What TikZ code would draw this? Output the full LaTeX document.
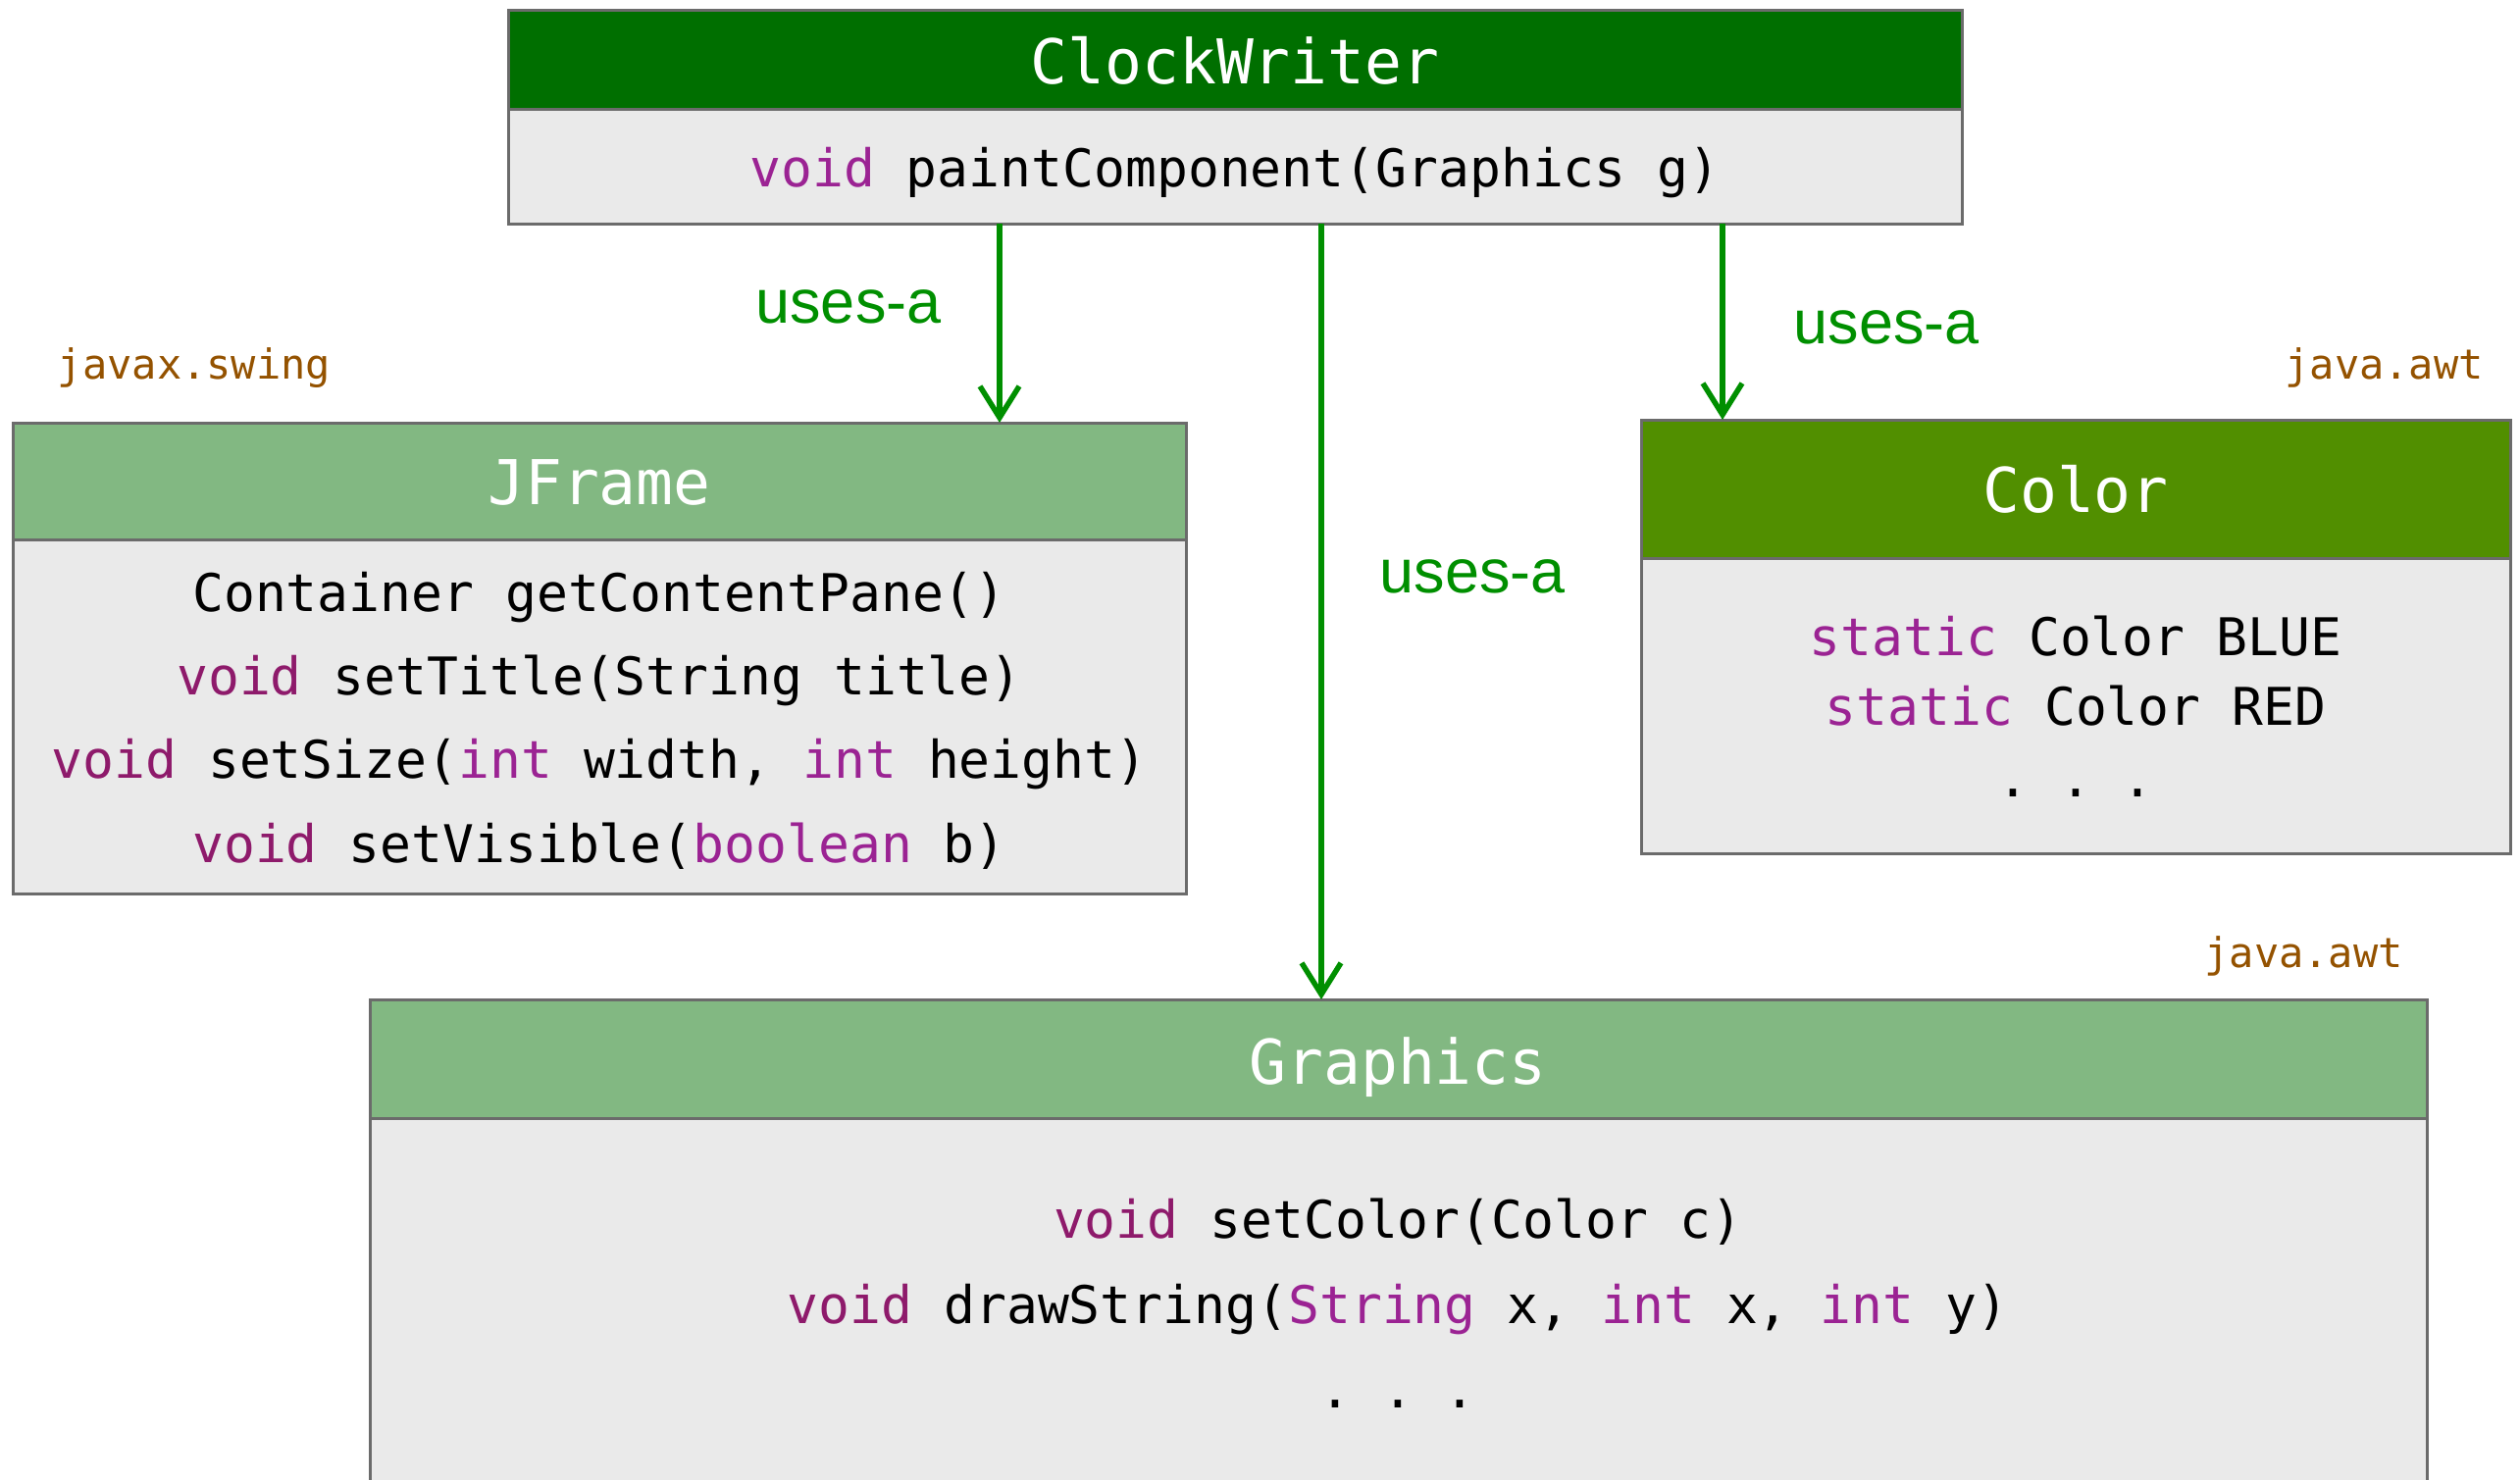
\documentclass[tikz,border=0pt]{standalone}
\usepackage{fontspec}
\setmonofont{DejaVu Sans Mono}
\newfontfamily\labfont{Liberation Sans}
\usetikzlibrary{arrows.meta}
\definecolor{hdrDark}{HTML}{006F00}
\definecolor{hdrLight}{HTML}{82B882}
\definecolor{hdrOlive}{HTML}{518F00}
\definecolor{bodyGray}{HTML}{EAEAEA}
\definecolor{edgeGray}{HTML}{6B6B6B}
\definecolor{kwPurple}{HTML}{9B2393}
\definecolor{kwMaroon}{HTML}{8E1A6B}
\definecolor{pkgBrown}{HTML}{945200}
\definecolor{useGreen}{HTML}{008F00}
\newcommand{\kwp}[1]{\textcolor{kwPurple}{#1}}
\newcommand{\kwm}[1]{\textcolor{kwMaroon}{#1}}
\begin{document}
\begin{tikzpicture}[x=1pt,y=-1pt,
  boxpart/.style={rectangle, draw=edgeGray, line width=3pt, inner sep=0pt, outer sep=0pt, anchor=north west},
  titletxt/.style={anchor=base, inner sep=0pt, text=white, font=\ttfamily\fontsize{63}{70}\selectfont},
  methtxt/.style={anchor=base, inner sep=0pt, text=black, font=\ttfamily\fontsize{53}{60}\selectfont},
  pkgtxt/.style={anchor=base, inner sep=0pt, text=pkgBrown, font=\ttfamily\fontsize{42}{48}\selectfont},
  usetxt/.style={anchor=base, inner sep=0pt, text=useGreen, font=\labfont\fontsize{63}{70}\selectfont},
  usesarrow/.style={draw=useGreen, line width=5.5pt, -{Straight Barb[length=32pt,width=40pt]}}
]
\useasboundingbox (0,0) rectangle (2569,1508);
\clip (0,0) rectangle (2569,1508);
\frenchspacing
% ClockWriter
\node[boxpart, fill=hdrDark, minimum width=1482pt, minimum height=101pt] (cwH) at (518,10) {};
\node[boxpart, fill=bodyGray, minimum width=1482pt, minimum height=117pt] (cwB) at (518,111) {};
\node[titletxt] (cwT) at (1259,85) {ClockWriter};
\node[methtxt] (cwM) at (1259,190) {\kwp{void} paintComponent(Graphics g)};
% JFrame
\node[boxpart, fill=hdrLight, minimum width=1196pt, minimum height=119pt] (jfH) at (13,431) {};
\node[boxpart, fill=bodyGray, minimum width=1196pt, minimum height=361pt] (jfB) at (13,550) {};
\node[titletxt] (jfT) at (611,514) {JFrame};
\node[methtxt] (jf1) at (611,623) {Container getContentPane()};
\node[methtxt] (jf2) at (611,708) {\kwm{void} setTitle(String title)};
\node[methtxt] (jf3) at (611,793) {\kwm{void} setSize(\kwp{int} width, \kwp{int} height)};
\node[methtxt] (jf4) at (611,879) {\kwm{void} setVisible(\kwp{boolean} b)};
% Color
\node[boxpart, fill=hdrOlive, minimum width=886pt, minimum height=141pt] (coH) at (1673,428) {};
\node[boxpart, fill=bodyGray, minimum width=886pt, minimum height=301pt] (coB) at (1673,569) {};
\node[titletxt] (coT) at (2116,522) {Color};
\node[methtxt] (co1) at (2116,668) {\kwp{static} Color BLUE};
\node[methtxt] (co2) at (2116,739) {\kwp{static} Color RED};
\node[methtxt] (co3) at (2116,812) {.\ .\ .};
% Graphics
\node[boxpart, fill=hdrLight, minimum width=2097pt, minimum height=121pt] (grH) at (377,1019) {};
\node[boxpart, fill=bodyGray, minimum width=2097pt, minimum height=420pt] (grB) at (377,1140) {};
\node[titletxt] (grT) at (1425,1105) {Graphics};
\node[methtxt] (gr1) at (1425,1262) {\kwm{void} setColor(Color c)};
\node[methtxt] (gr2) at (1425,1349) {\kwm{void} drawString(\kwp{String} x, \kwp{int} x, \kwp{int} y)};
\node[methtxt] (gr3) at (1425,1435) {.\ .\ .};
% package labels
\node[pkgtxt] (pkSwing) at (198,386) {javax.swing};
\node[pkgtxt, anchor=base east] (pkAwt1) at (2532,386) {java.awt};
\node[pkgtxt, anchor=base east] (pkAwt2) at (2450,986) {java.awt};
% arrows
\coordinate (xJ) at (1019,0);
\coordinate (xG) at (1347,0);
\coordinate (xC) at (1756,0);
\draw[usesarrow] (cwB.south -| xJ) -- (jfH.north -| xJ);
\draw[usesarrow] (cwB.south -| xG) -- (grH.north -| xG);
\draw[usesarrow] (cwB.south -| xC) -- (coH.north -| xC);
\node[usetxt] (u1) at (865,329) {uses-a};
\node[usetxt] (u2) at (1923,350) {uses-a};
\node[usetxt] (u3) at (1501,604) {uses-a};
\end{tikzpicture}
\end{document}
